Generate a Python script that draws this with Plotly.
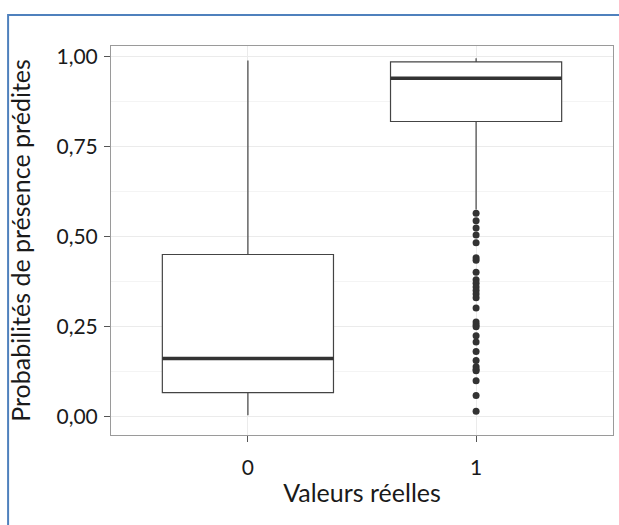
import plotly.graph_objects as go

# ---- data ----
categories = [0, 1]
cat_labels = ["0", "1"]
q1 = [0.066, 0.82]
median = [0.161, 0.94]
q3 = [0.45, 0.986]
lower_whisker = [0.003, 0.575]
upper_whisker = [0.99, 0.996]
outliers_1 = [0.565, 0.544, 0.524, 0.504, 0.483, 0.441, 0.434, 0.401, 0.38, 0.37,
              0.36, 0.35, 0.34, 0.33, 0.301, 0.262, 0.255, 0.249, 0.224, 0.207,
              0.18, 0.155, 0.138, 0.13, 0.127, 0.099, 0.058, 0.014]
y_ticks = [0.0, 0.25, 0.5, 0.75, 1.0]
y_tick_labels = ["0,00", "0,25", "0,50", "0,75", "1,00"]
x_title = "Valeurs réelles"
y_title = "Probabilités de présence prédites"

box_width = 0.75
dark = "#333333"
font_family = "Lato, 'Open Sans', sans-serif"

fig = go.Figure()
for c, a, m, b, lo, hi in zip(categories, q1, median, q3, lower_whisker, upper_whisker):
    fig.add_trace(go.Box(
        x=[c], q1=[a], median=[m], q3=[b], lowerfence=[lo], upperfence=[hi],
        width=box_width, fillcolor="white", line=dict(color="#444444", width=1.2),
        whiskerwidth=0, boxpoints=False, showlegend=False, hoverinfo="skip"))
    fig.add_trace(go.Scatter(
        x=[c - box_width / 2, c + box_width / 2], y=[m, m], mode="lines",
        line=dict(color=dark, width=3.5), showlegend=False, hoverinfo="skip"))

fig.add_trace(go.Scatter(
    x=[categories[1]] * len(outliers_1), y=outliers_1, mode="markers",
    marker=dict(color=dark, size=7), showlegend=False))

fig.update_layout(
    width=619, height=525,
    margin=dict(l=111, r=6, t=46, b=90),
    paper_bgcolor="white", plot_bgcolor="white",
    font=dict(family=font_family, size=21, color="#1a1a1a"),
    xaxis=dict(
        range=[-0.6, 1.6], tickvals=categories, ticktext=cat_labels,
        showgrid=True, gridcolor="#ebebeb", gridwidth=1, zeroline=False,
        showline=True, mirror=True, linecolor="#9a9a9a", linewidth=1,
        ticks="outside", ticklen=6, tickcolor="#555555", ticklabelstandoff=8,
        title=dict(text=x_title, standoff=6),
    ),
    yaxis=dict(
        range=[-0.052, 1.03], tickvals=y_ticks, ticktext=y_tick_labels,
        showgrid=True, gridcolor="#ebebeb", gridwidth=1, zeroline=False,
        minor=dict(showgrid=True, gridcolor="#f4f4f4", dtick=0.125, tick0=0.125),
        showline=True, mirror=True, linecolor="#9a9a9a", linewidth=1,
        ticks="outside", ticklen=6, tickcolor="#555555", ticklabelstandoff=2,
        title=dict(text=y_title, standoff=18),
    ),
    shapes=[dict(type="rect", xref="paper", yref="paper",
                 x0=-0.205, x1=1.2, y0=-0.5, y1=1.0797,
                 line=dict(color="#4F81BD", width=2), layer="below")],
)

fig.write_html("out.html")
